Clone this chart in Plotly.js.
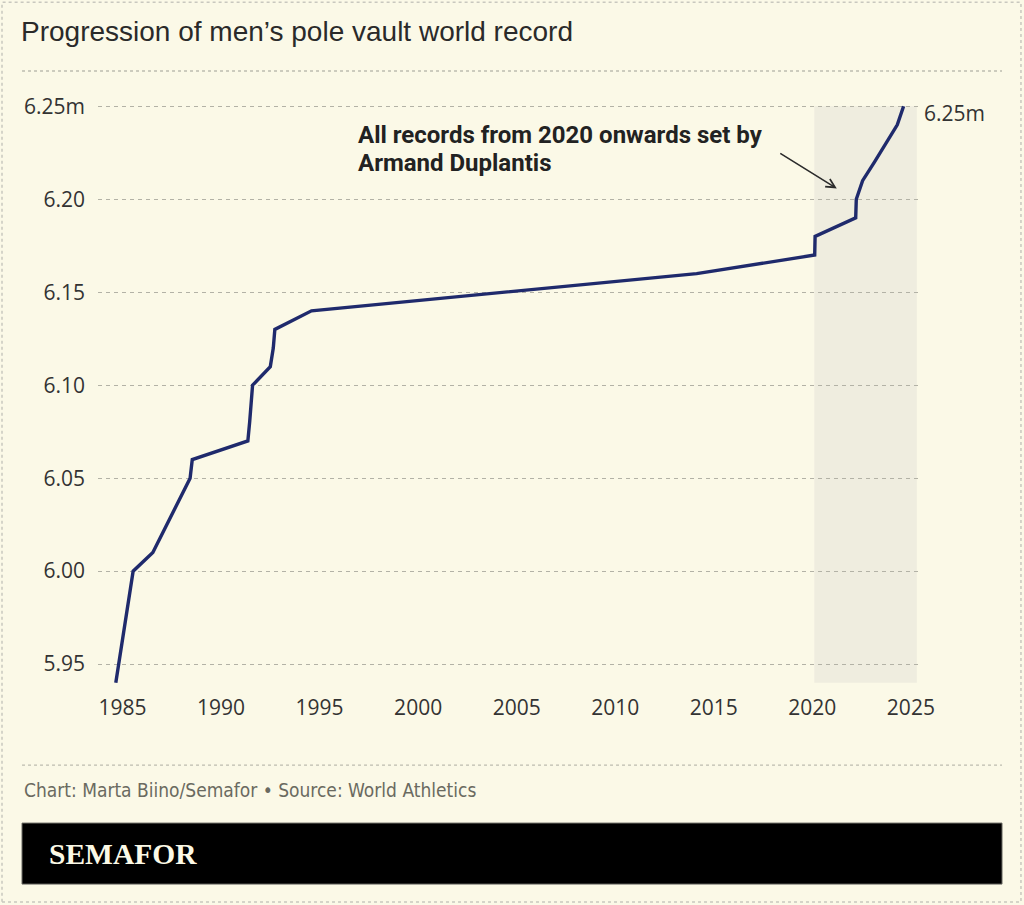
<!DOCTYPE html>
<html>
<head>
<meta charset="utf-8">
<script src="https://cdn.plot.ly/plotly-3.0.1.min.js"></script>
<style>
html,body{margin:0;padding:0;background:#fbf9e7;}
#chart{width:1024px;height:905px;}
</style>
</head>
<body>
<div id="chart"></div>
<script>
// World record progression (decimal year of record, height in metres)
const recordYears = [1984.66, 1985.54, 1986.54, 1987.48, 1988.43, 1988.54, 1991.36, 1991.45, 1991.53, 1991.60,
                     1992.50, 1992.65, 1992.73, 1994.59, 2014.13, 2020.12, 2020.14, 2022.20, 2022.23, 2022.55,
                     2023.15, 2023.71, 2024.31, 2024.63];
const recordHeights = [5.94, 6.00, 6.01, 6.03, 6.05, 6.06, 6.07, 6.08, 6.09, 6.10,
                       6.11, 6.12, 6.13, 6.14, 6.16, 6.17, 6.18, 6.19, 6.20, 6.21,
                       6.22, 6.23, 6.24, 6.25];
const yTickVals = [5.95, 6.00, 6.05, 6.10, 6.15, 6.20, 6.25];
const yTickText = ["5.95", "6.00", "6.05", "6.10", "6.15", "6.20", "6.25m"];
const xTickVals = [1985, 1990, 1995, 2000, 2005, 2010, 2015, 2020, 2025];
const xTickText = ["1985", "1990", "1995", "2000", "2005", "2010", "2015", "2020", "2025"];
const duplantisEra = [2020.1, 2025.3];
const titleText = "Progression of men’s pole vault world record";
const noteLines = ["All records from 2020 onwards set by", "Armand Duplantis"];
const sourceText = "Chart: Marta Biino/Semafor • Source: World Athletics";
const brandText = "SEMAFOR";
const lastLabel = "6.25m";

const bg = "#fbf9e7";
const textDark = "#333333";
const narrow = "'Liberation Sans Narrow', 'Arial Narrow', 'DejaVu Sans Condensed', sans-serif";

const trace = {
  x: recordYears, y: recordHeights, type: "scatter", mode: "lines",
  line: {color: "#1f2a6c", width: 3.4},
  hoverinfo: "skip", cliponaxis: false
};

const layout = {
  width: 1024, height: 905,
  margin: {l: 98, r: 102, t: 96.7, b: 213.1},
  paper_bgcolor: bg, plot_bgcolor: bg,
  showlegend: false,
  xaxis: {
    range: [1983.757, 2025.564], tickvals: xTickVals, ticktext: xTickText,
    showgrid: false, zeroline: false, showline: false, ticks: "",
    ticklabelstandoff: 1,
    tickfont: {family: "'Open Sans', sans-serif", size: 21, color: textDark},
    fixedrange: true
  },
  yaxis: {
    range: [5.935, 6.255], tickvals: yTickVals, ticktext: yTickText,
    showgrid: true, gridcolor: "#b3b2a6", gridwidth: 1.2, griddash: "4px,4px",
    zeroline: false, showline: false, ticks: "",
    ticklabelstandoff: 12,
    tickfont: {family: "'Open Sans', sans-serif", size: 21, color: textDark},
    fixedrange: true
  },
  shapes: [
    {type: "rect", xref: "x", yref: "y", x0: duplantisEra[0], x1: duplantisEra[1], y0: 5.94, y1: 6.25,
     fillcolor: "#efeddf", line: {width: 0}, layer: "below"},
    {type: "line", xref: "paper", yref: "paper", x0: -0.0922, x1: 1.0971, y0: 1.0437, y1: 1.0437,
     line: {color: "#bdbcb0", width: 1.3, dash: "3px,3px"}},
    {type: "line", xref: "paper", yref: "paper", x0: -0.0922, x1: 1.0971, y0: -0.1228, y1: -0.1228,
     line: {color: "#bdbcb0", width: 1.3, dash: "3px,3px"}},
    {type: "rect", xref: "paper", yref: "paper", x0: -0.0922, x1: 1.0971, y0: -0.3228, y1: -0.2203,
     fillcolor: "#000000", line: {color: "#666660", width: 1}},
    {type: "rect", xref: "paper", yref: "paper", x0: -0.1165, x1: 1.1201, y0: -0.353, y1: 1.1591,
     fillcolor: "rgba(0,0,0,0)", line: {color: "#c9c8bf", width: 1.5, dash: "3px,3px"}}
  ],
  annotations: [
    {xref: "paper", yref: "paper", x: -0.0955, y: 1.1095, xanchor: "left", yanchor: "middle",
     text: titleText, showarrow: false,
     font: {family: "'Liberation Sans', Arial, sans-serif", size: 28, color: "#2a2a2a"}},
    {xref: "x", yref: "y", x: 1996.85, y: 6.2344, xanchor: "left", yanchor: "middle",
     text: "<b>" + noteLines[0] + "</b>", showarrow: false,
     font: {family: "Roboto, sans-serif", size: 24, color: "#222222"}},
    {xref: "x", yref: "y", x: 1996.85, y: 6.2194, xanchor: "left", yanchor: "middle",
     text: "<b>" + noteLines[1] + "</b>", showarrow: false,
     font: {family: "Roboto, sans-serif", size: 24, color: "#222222"}},
    {xref: "x", yref: "y", x: 2021.24, y: 6.2058, text: "", showarrow: true,
     ax: -58, ay: -36, arrowhead: 5, arrowsize: 1.1, arrowwidth: 1.6, arrowcolor: "#2b2b2b", standoff: 0},
    {xref: "paper", yref: "y", x: 1.0, y: 6.25, xanchor: "left", yanchor: "middle", yshift: -7,
     text: lastLabel, showarrow: false,
     font: {family: "'Open Sans', sans-serif", size: 21, color: textDark}},
    {xref: "paper", yref: "paper", x: -0.0922, y: -0.1655, xanchor: "left", yanchor: "middle",
     text: sourceText, showarrow: false,
     font: {family: narrow, size: 19, color: "#6a6a60"}},
    {xref: "paper", yref: "paper", x: -0.0620, y: -0.2719, xanchor: "left", yanchor: "middle",
     text: "<b>" + brandText + "</b>", showarrow: false,
     font: {family: "'Liberation Serif', 'DejaVu Serif', serif", size: 29.5, color: "#fbf9e6"}}
  ]
};

Plotly.newPlot("chart", [trace], layout, {displayModeBar: false, staticPlot: true});
</script>
</body>
</html>
